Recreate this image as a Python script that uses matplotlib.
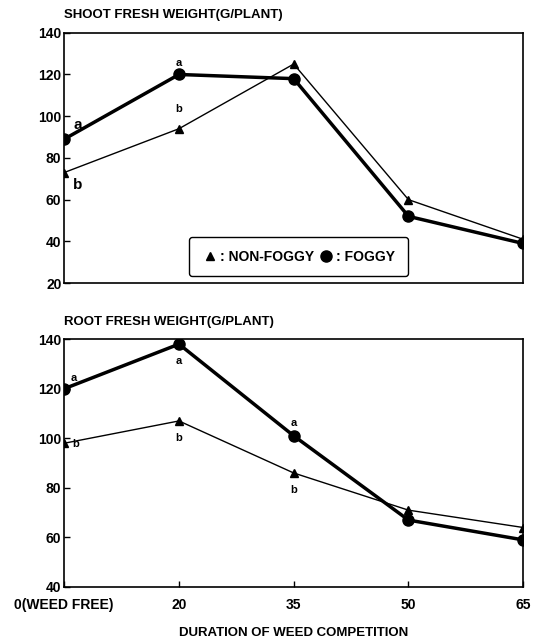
import numpy as np
import matplotlib
matplotlib.use('Agg')
import matplotlib.pyplot as plt

plt.rcParams['font.family'] = ['Liberation Sans', 'DejaVu Sans']
plt.rcParams['font.weight'] = 'bold'

# 数据
days = ['0(WEED FREE)', '20', '35', '50', '65']
shoot_nonfoggy = [73, 94, 125, 60, 41]
shoot_foggy = [89, 120, 118, 52, 39]
root_nonfoggy = [98, 107, 86, 71, 64]
root_foggy = [120, 138, 101, 67, 59]

x = np.arange(len(days))

fig = plt.figure(figsize=(5.35, 6.42), dpi=100)
ax1 = fig.add_axes([0.12, 0.559, 0.858, 0.39])
ax2 = fig.add_axes([0.12, 0.0857, 0.858, 0.386])

for ax in (ax1, ax2):
    ax.set_xlim(0, len(days) - 1)
    ax.set_xticks(x)
    ax.tick_params(direction='in', length=4, width=1, labelsize=10)
    ax.tick_params(axis='y', pad=2)
    for sp in ax.spines.values():
        sp.set_linewidth(1.2)

# 上图: 地上部鲜重
ax1.plot(x, shoot_nonfoggy, color='black', lw=1, marker='^', ms=6, label=': NON-FOGGY')
ax1.plot(x, shoot_foggy, color='black', lw=2.5, marker='o', ms=8, label=': FOGGY')
ax1.set_ylim(20, 140)
ax1.set_yticks(np.arange(20, 141, 20))
ax1.set_xticklabels([])
ax1.tick_params(axis='x', length=0)
ax1.text(0, 1.045, 'SHOOT FRESH WEIGHT(G/PLANT)', transform=ax1.transAxes, fontsize=9.5, ha='left', va='bottom')
ax1.text(0.12, shoot_foggy[0] + 5, 'a', fontsize=11, ha='center')
ax1.text(0.12, shoot_nonfoggy[0] - 8, 'b', fontsize=11, ha='center')
ax1.text(1, shoot_foggy[1] + 4, 'a', fontsize=8, ha='center')
ax1.text(1, shoot_nonfoggy[1] + 8, 'b', fontsize=8, ha='center')

leg = ax1.legend(loc='lower center', bbox_to_anchor=(0.51, 0.0), ncol=2, fontsize=10,
                 handlelength=1.2, handletextpad=0.1, columnspacing=0.3, borderpad=0.9,
                 fancybox=True, framealpha=1, edgecolor='black')
leg.get_frame().set_linewidth(1)
for h in leg.legend_handles:
    h.set_linewidth(0)

# 下图: 根鲜重
ax2.plot(x, root_nonfoggy, color='black', lw=1, marker='^', ms=6)
ax2.plot(x, root_foggy, color='black', lw=2.5, marker='o', ms=8)
ax2.set_ylim(40, 140)
ax2.set_yticks(np.arange(40, 141, 20))
ax2.set_xticklabels(days)
ax2.tick_params(axis='x', pad=8)
ax2.text(0, 1.045, 'ROOT FRESH WEIGHT(G/PLANT)', transform=ax2.transAxes, fontsize=9.5, ha='left', va='bottom')
ax2.text(0.08, root_foggy[0] + 3, 'a', fontsize=8, ha='center')
ax2.text(0.1, root_nonfoggy[0] - 1.5, 'b', fontsize=8, ha='center')
ax2.text(1, root_foggy[1] - 8, 'a', fontsize=8, ha='center')
ax2.text(1, root_nonfoggy[1] - 8, 'b', fontsize=8, ha='center')
ax2.text(2, root_foggy[2] + 4, 'a', fontsize=8, ha='center')
ax2.text(2, root_nonfoggy[2] - 8, 'b', fontsize=8, ha='center')
ax2.set_xlabel('DURATION OF WEED COMPETITION', fontsize=9.5, fontweight='bold', labelpad=11)

fig.savefig('out.png', dpi=100)
